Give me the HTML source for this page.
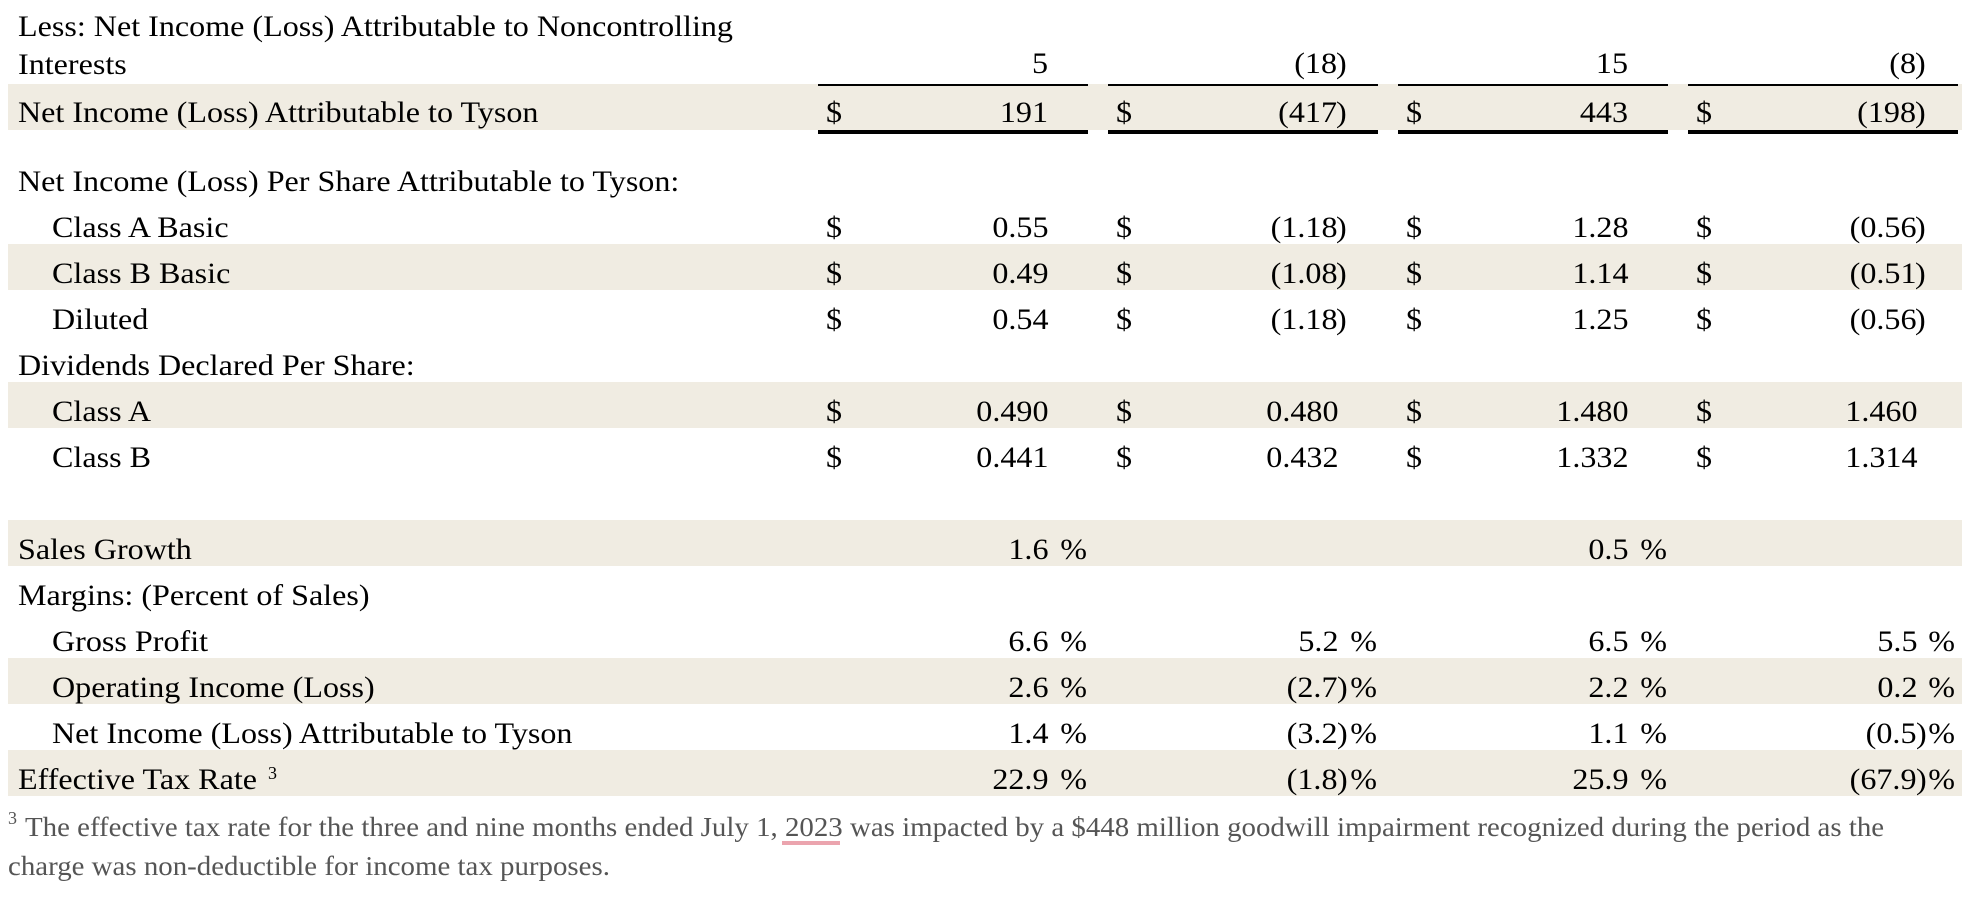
<!DOCTYPE html>
<html>
<head>
<meta charset="utf-8">
<style>
html,body{margin:0;padding:0;background:#fff;}
body{width:1962px;height:916px;position:relative;overflow:hidden;}
.b{position:absolute;left:8px;width:1954px;height:46px;background:#f0ece2;}
.u{position:absolute;height:2px;background:#000;}
.uu{position:absolute;height:4px;background:#000;}
.t{position:absolute;font-family:"Liberation Serif","Times New Roman",serif;font-size:30px;line-height:30px;white-space:nowrap;color:#000;}
.l{transform:scaleX(1.07);transform-origin:0 50%;}
.r{transform:scaleX(1.07);transform-origin:100% 50%;text-align:right;}
.f{position:absolute;font-family:"Liberation Serif","Times New Roman",serif;font-size:27px;line-height:27px;white-space:nowrap;color:#555;transform:scaleX(1.07);transform-origin:0 50%;}
.sup{position:absolute;font-family:"Liberation Serif","Times New Roman",serif;font-size:18px;line-height:18px;white-space:nowrap;}
</style>
</head>
<body>
<!-- shaded bands -->
<div class="b" style="top:84px"></div>
<div class="b" style="top:244px"></div>
<div class="b" style="top:382px"></div>
<div class="b" style="top:520px"></div>
<div class="b" style="top:658px"></div>
<div class="b" style="top:750px"></div>

<!-- underlines -->
<div class="u" style="top:84px;left:818px;width:270px"></div>
<div class="u" style="top:84px;left:1108px;width:270px"></div>
<div class="u" style="top:84px;left:1398px;width:270px"></div>
<div class="u" style="top:84px;left:1688px;width:270px"></div>
<div class="uu" style="top:130px;left:818px;width:270px"></div>
<div class="uu" style="top:130px;left:1108px;width:270px"></div>
<div class="uu" style="top:130px;left:1398px;width:270px"></div>
<div class="uu" style="top:130px;left:1688px;width:270px"></div>

<!-- Row 0 -->
<div class="t l" style="top:12px;left:18px">Less: Net Income (Loss) Attributable to Noncontrolling</div>
<div class="t l" style="top:50px;left:18px">Interests</div>
<div class="t r" style="top:49px;right:914px">5</div>
<div class="t r" style="top:49px;right:625px">(18</div><div class="t l" style="top:49px;left:1336px">)</div>
<div class="t r" style="top:49px;right:334px">15</div>
<div class="t r" style="top:49px;right:46px">(8</div><div class="t l" style="top:49px;left:1915px">)</div>

<!-- Tyson -->
<div class="t l" style="top:98px;left:18px">Net Income (Loss) Attributable to Tyson</div>
<div class="t l" style="top:98px;left:826px">$</div><div class="t r" style="top:98px;right:914px">191</div>
<div class="t l" style="top:98px;left:1116px">$</div><div class="t r" style="top:98px;right:625px">(417</div><div class="t l" style="top:98px;left:1336px">)</div>
<div class="t l" style="top:98px;left:1406px">$</div><div class="t r" style="top:98px;right:334px">443</div>
<div class="t l" style="top:98px;left:1696px">$</div><div class="t r" style="top:98px;right:46px">(198</div><div class="t l" style="top:98px;left:1915px">)</div>

<!-- Per share header -->
<div class="t l" style="top:167px;left:18px">Net Income (Loss) Per Share Attributable to Tyson:</div>

<!-- Class A Basic -->
<div class="t l" style="top:213px;left:52px">Class A Basic</div>
<div class="t l" style="top:213px;left:826px">$</div><div class="t r" style="top:213px;right:914px">0.55</div>
<div class="t l" style="top:213px;left:1116px">$</div><div class="t r" style="top:213px;right:625px">(1.18</div><div class="t l" style="top:213px;left:1336px">)</div>
<div class="t l" style="top:213px;left:1406px">$</div><div class="t r" style="top:213px;right:334px">1.28</div>
<div class="t l" style="top:213px;left:1696px">$</div><div class="t r" style="top:213px;right:46px">(0.56</div><div class="t l" style="top:213px;left:1915px">)</div>

<!-- Class B Basic -->
<div class="t l" style="top:259px;left:52px">Class B Basic</div>
<div class="t l" style="top:259px;left:826px">$</div><div class="t r" style="top:259px;right:914px">0.49</div>
<div class="t l" style="top:259px;left:1116px">$</div><div class="t r" style="top:259px;right:625px">(1.08</div><div class="t l" style="top:259px;left:1336px">)</div>
<div class="t l" style="top:259px;left:1406px">$</div><div class="t r" style="top:259px;right:334px">1.14</div>
<div class="t l" style="top:259px;left:1696px">$</div><div class="t r" style="top:259px;right:46px">(0.51</div><div class="t l" style="top:259px;left:1915px">)</div>

<!-- Diluted -->
<div class="t l" style="top:305px;left:52px">Diluted</div>
<div class="t l" style="top:305px;left:826px">$</div><div class="t r" style="top:305px;right:914px">0.54</div>
<div class="t l" style="top:305px;left:1116px">$</div><div class="t r" style="top:305px;right:625px">(1.18</div><div class="t l" style="top:305px;left:1336px">)</div>
<div class="t l" style="top:305px;left:1406px">$</div><div class="t r" style="top:305px;right:334px">1.25</div>
<div class="t l" style="top:305px;left:1696px">$</div><div class="t r" style="top:305px;right:46px">(0.56</div><div class="t l" style="top:305px;left:1915px">)</div>

<!-- Dividends -->
<div class="t l" style="top:351px;left:18px">Dividends Declared Per Share:</div>

<div class="t l" style="top:397px;left:52px">Class A</div>
<div class="t l" style="top:397px;left:826px">$</div><div class="t r" style="top:397px;right:914px">0.490</div>
<div class="t l" style="top:397px;left:1116px">$</div><div class="t r" style="top:397px;right:624px">0.480</div>
<div class="t l" style="top:397px;left:1406px">$</div><div class="t r" style="top:397px;right:334px">1.480</div>
<div class="t l" style="top:397px;left:1696px">$</div><div class="t r" style="top:397px;right:45px">1.460</div>

<div class="t l" style="top:443px;left:52px">Class B</div>
<div class="t l" style="top:443px;left:826px">$</div><div class="t r" style="top:443px;right:914px">0.441</div>
<div class="t l" style="top:443px;left:1116px">$</div><div class="t r" style="top:443px;right:624px">0.432</div>
<div class="t l" style="top:443px;left:1406px">$</div><div class="t r" style="top:443px;right:334px">1.332</div>
<div class="t l" style="top:443px;left:1696px">$</div><div class="t r" style="top:443px;right:45px">1.314</div>

<!-- Sales Growth -->
<div class="t l" style="top:535px;left:18px">Sales Growth</div>
<div class="t r" style="top:535px;right:914px">1.6</div><div class="t r" style="top:535px;right:875px">%</div>
<div class="t r" style="top:535px;right:334px">0.5</div><div class="t r" style="top:535px;right:295px">%</div>

<!-- Margins -->
<div class="t l" style="top:581px;left:18px">Margins: (Percent of Sales)</div>

<!-- Gross Profit -->
<div class="t l" style="top:627px;left:52px">Gross Profit</div>
<div class="t r" style="top:627px;right:914px">6.6</div><div class="t r" style="top:627px;right:875px">%</div>
<div class="t r" style="top:627px;right:624px">5.2</div><div class="t r" style="top:627px;right:585px">%</div>
<div class="t r" style="top:627px;right:334px">6.5</div><div class="t r" style="top:627px;right:295px">%</div>
<div class="t r" style="top:627px;right:45px">5.5</div><div class="t r" style="top:627px;right:7px">%</div>

<!-- Operating -->
<div class="t l" style="top:673px;left:52px">Operating Income (Loss)</div>
<div class="t r" style="top:673px;right:914px">2.6</div><div class="t r" style="top:673px;right:875px">%</div>
<div class="t r" style="top:673px;right:625px">(2.7</div><div class="t l" style="top:673px;left:1337px">)</div><div class="t r" style="top:673px;right:585px">%</div>
<div class="t r" style="top:673px;right:334px">2.2</div><div class="t r" style="top:673px;right:295px">%</div>
<div class="t r" style="top:673px;right:45px">0.2</div><div class="t r" style="top:673px;right:7px">%</div>

<!-- Net Income -->
<div class="t l" style="top:719px;left:52px">Net Income (Loss) Attributable to Tyson</div>
<div class="t r" style="top:719px;right:914px">1.4</div><div class="t r" style="top:719px;right:875px">%</div>
<div class="t r" style="top:719px;right:625px">(3.2</div><div class="t l" style="top:719px;left:1337px">)</div><div class="t r" style="top:719px;right:585px">%</div>
<div class="t r" style="top:719px;right:334px">1.1</div><div class="t r" style="top:719px;right:295px">%</div>
<div class="t r" style="top:719px;right:46px">(0.5</div><div class="t l" style="top:719px;left:1916px">)</div><div class="t r" style="top:719px;right:7px">%</div>

<!-- Effective Tax Rate -->
<div class="t l" style="top:765px;left:18px">Effective Tax Rate</div>
<div class="sup" style="top:764px;left:268px">3</div>
<div class="t r" style="top:765px;right:914px">22.9</div><div class="t r" style="top:765px;right:875px">%</div>
<div class="t r" style="top:765px;right:625px">(1.8</div><div class="t l" style="top:765px;left:1337px">)</div><div class="t r" style="top:765px;right:585px">%</div>
<div class="t r" style="top:765px;right:334px">25.9</div><div class="t r" style="top:765px;right:295px">%</div>
<div class="t r" style="top:765px;right:46px">(67.9</div><div class="t l" style="top:765px;left:1916px">)</div><div class="t r" style="top:765px;right:7px">%</div>

<!-- Footnote -->
<div class="sup" style="top:809px;left:8px;color:#555">3</div>
<div style="position:absolute;left:782px;top:841px;width:58px;height:4px;background:#eba4ae"></div>
<div class="f" style="top:814px;left:25px">The effective tax rate for the three and nine months ended July 1, 2023 was impacted by a $448 million goodwill impairment recognized during the period as the</div>
<div class="f" style="top:853px;left:8px">charge was non-deductible for income tax purposes.</div>
</body>
</html>
